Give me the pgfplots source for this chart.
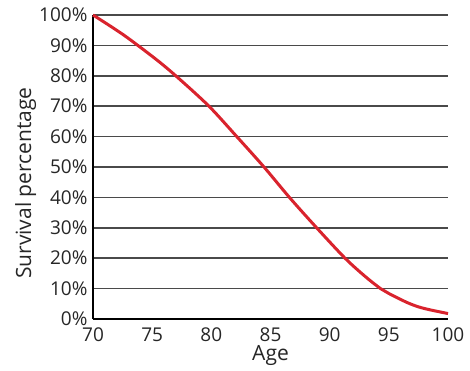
\documentclass[border=0pt]{standalone}
\usepackage{pgfplots}
\pgfplotsset{compat=1.18}
\usepackage{fontspec}
\setmainfont{Open Sans}
\definecolor{curvered}{HTML}{D9232D}
\definecolor{gridgray}{HTML}{4A4A4A}
\begin{document}
\begin{tikzpicture}
\path[use as bounding box] (0,0) rectangle (470pt,370pt);
\begin{axis}[
  at={(93pt,51pt)}, anchor=south west,
  scale only axis, width=355pt, height=304pt,
  xmin=70, xmax=100, ymin=0, ymax=100,
  xtick={70,75,...,100}, ytick={0,10,...,100},
  yticklabel={\pgfmathprintnumber{\tick}\%},
  /pgf/number format/assume math mode=true,
  axis x line*=bottom, axis y line*=left,
  axis line style={line width=2pt, black, -},
  ymajorgrids, grid style={line width=1.6pt, gridgray},
  major tick length=0pt,
  tick label style={font=\fontsize{19}{21}\selectfont, text=black!85},
  xticklabel style={yshift=-5pt},
  yticklabel style={xshift=-2pt},
  xlabel={Age}, ylabel={Survival percentage},
  every axis x label/.style={at={(axis description cs:0.5,-0.135)}, anchor=base, font=\fontsize{21}{23}\selectfont, text=black!85},
  every axis y label/.style={at={(axis description cs:-0.19,0.447)}, rotate=90, anchor=center, font=\fontsize{21}{23}\selectfont, text=black!85},
  clip=false,
]
\addplot[curvered, line width=3pt, smooth, tension=0.5] coordinates {
(70,100) (72.6,93.4) (75.4,85.2) (77.2,79.3) (79.8,70)
(82.15,60) (84.45,50) (86.6,40) (88.9,30) (91.3,20) (93,14) (94.3,10)
(95,8.4) (96.5,5.5) (97.5,4) (98.5,3) (100,1.8)
};
\end{axis}
\end{tikzpicture}
\end{document}
